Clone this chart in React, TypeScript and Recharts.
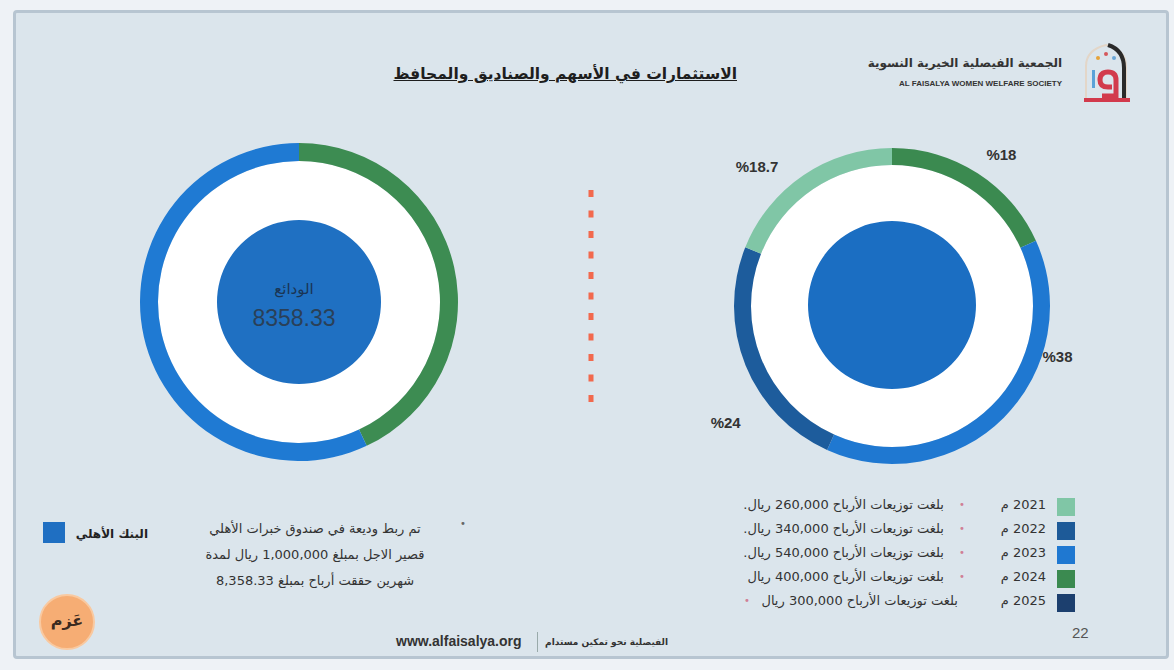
import { PieChart, Pie, Cell } from "recharts";

// right donut: dividend share by year (clockwise from the top)
const yearNames = ["2024", "2023", "2022", "2021"];
const yearShares = [18, 38, 24, 18.7];
const yearColors = ["#3b8a50", "#1f78d1", "#1d5c9c", "#80c6a6"];

// left donut: Al Ahli deposit
const depositNames = ["green", "blue"];
const depositShares = [43, 57];
const depositColors = ["#3d8c52", "#1f7ad3"];

// legend rows (right side)
const legendYears = ["2021", "2022", "2023", "2024", "2025"];
const legendAmounts = ["260,000", "340,000", "540,000", "400,000", "300,000"];
const legendColors = ["#80c6a6", "#1d5a98", "#1f78d1", "#3b8a50", "#1c3f6e"];

const depositValue = "8358.33";

const ringData = yearNames.map((n, i) => ({ name: n, value: yearShares[i] }));
const depositData = depositNames.map((n, i) => ({ name: n, value: depositShares[i] }));
const fillData = [{ name: "fill", value: 1 }];

// label nudges (degrees clockwise, radius) per slice, right donut
const labelPlace = [
  { shift: 3, r: 187 },
  { shift: -28, r: 173 },
  { shift: -13, r: 203 },
  { shift: -10, r: 194 },
];

const RAD = Math.PI / 180;

function pctLabel(props: any) {
  const { cx, cy, midAngle, index, value } = props;
  const p = labelPlace[index];
  const a = midAngle - p.shift;
  const x = cx + p.r * Math.cos(-a * RAD);
  const y = cy + p.r * Math.sin(-a * RAD);
  return (
    <text
      x={x}
      y={y}
      textAnchor="middle"
      dominantBaseline="central"
      fontFamily="Liberation Sans, Arial"
      fontWeight="bold"
      fontSize={15}
      fill="#333"
      style={{ direction: "ltr" }}
    >
      {"%" + value}
    </text>
  );
}

const RX = 887;
const RY = 301;
const LX = 294;
const LY = 297;

export default function App() {
  return (
    <div
      style={{
        position: "absolute",
        left: 0,
        top: 0,
        width: 1174,
        height: 670,
        background: "#eef2f6",
        fontFamily: "DejaVu Sans, sans-serif",
        overflow: "hidden",
      }}
    >
      <div
        style={{
          position: "absolute",
          left: 13,
          top: 10,
          width: 1150,
          height: 643,
          background: "#dbe5ec",
          border: "3px solid #b7c5d1",
          borderRadius: 4,
        }}
      />

      <div style={{ position: "absolute", left: 0, top: 0 }}>
        <PieChart width={1174} height={670}>
          {/* left donut */}
          <Pie data={fillData} dataKey="value" cx={LX} cy={LY} innerRadius={0} outerRadius={141}
            stroke="none" fill="#ffffff" isAnimationActive={false} />
          <Pie data={depositData} dataKey="value" cx={LX} cy={LY} innerRadius={141} outerRadius={159}
            startAngle={90} endAngle={-270} stroke="none" isAnimationActive={false}>
            {depositData.map((d, i) => (
              <Cell key={d.name} fill={depositColors[i]} />
            ))}
          </Pie>
          <Pie data={fillData} dataKey="value" cx={LX} cy={LY} innerRadius={0} outerRadius={82}
            stroke="none" fill="#1f70c2" isAnimationActive={false} />

          {/* right donut */}
          <Pie data={fillData} dataKey="value" cx={RX} cy={RY} innerRadius={0} outerRadius={141}
            stroke="none" fill="#ffffff" isAnimationActive={false} />
          <Pie data={ringData} dataKey="value" cx={RX} cy={RY} innerRadius={141} outerRadius={158}
            startAngle={90} endAngle={-270} stroke="none" isAnimationActive={false}
            label={pctLabel} labelLine={false}>
            {ringData.map((d, i) => (
              <Cell key={d.name} fill={yearColors[i]} />
            ))}
          </Pie>
          <Pie data={fillData} dataKey="value" cx={RX} cy={RY - 1} innerRadius={0} outerRadius={84}
            stroke="none" fill="#1b6ec2" isAnimationActive={false} />
        </PieChart>
      </div>

      {/* centre text of left donut */}
      <div style={{ position: "absolute", left: LX - 80, top: 280, width: 160, textAlign: "center",
        color: "#1a3554", fontSize: 15, direction: "rtl" }}>الودائع</div>
      <div style={{ position: "absolute", left: LX - 80, top: 305, width: 160, textAlign: "center",
        color: "#2a4058", fontSize: 23, fontFamily: "Liberation Sans, Arial" }}>{depositValue}</div>

      {/* title */}
      <div style={{ position: "absolute", left: 337, top: 65, width: 400, textAlign: "right",
        direction: "rtl", fontSize: 15.5, fontWeight: "bold", color: "#1e1e1e", textDecoration: "underline",
        whiteSpace: "nowrap" }}>
        الاستثمارات في الأسهم والصناديق والمحافظ
      </div>

      {/* header logo */}
      <div style={{ position: "absolute", left: 820, top: 56, width: 242, textAlign: "right",
        direction: "rtl", fontSize: 12, fontWeight: "bold", color: "#333", whiteSpace: "nowrap" }}>
        الجمعية الفيصلية الخيرية النسوية
      </div>
      <div style={{ position: "absolute", left: 820, top: 79, width: 242, textAlign: "right",
        fontSize: 8, fontWeight: "bold", color: "#333", fontFamily: "Liberation Sans Narrow, Liberation Sans",
        whiteSpace: "nowrap" }}>
        AL FAISALYA WOMEN WELFARE SOCIETY
      </div>
      <svg style={{ position: "absolute", left: 1078, top: 40 }} width={56} height={70}>
        <path d="M8 58 L8 26 Q8 10 28 5 Q48 10 48 26 L48 58" fill="none" stroke="#e3d6c8" strokeWidth={2} />
        <path d="M30 5 Q46 10 46 28 L46 58" fill="none" stroke="#2a2a2a" strokeWidth={4} />
        <circle cx={20} cy={18} r={2} fill="#e6a33a" />
        <circle cx={28} cy={14} r={2} fill="#d5585c" />
        <circle cx={36} cy={18} r={2} fill="#6aa7d8" />
        <rect x={14} y={30} width={3} height={18} fill="#5aa2d8" />
        <path d="M24 56 L38 56 L38 40 Q38 32 30 32 Q22 32 22 40 Q22 47 30 47 L34 47" fill="none"
          stroke="#d23a4c" strokeWidth={5} />
        <rect x={6} y={58} width={46} height={4} fill="#d23a4c" />
      </svg>

      {/* dotted divider */}
      <svg style={{ position: "absolute", left: 585, top: 188 }} width={12} height={224}>
        <line x1={6} y1={2} x2={6} y2={222} stroke="#f2694d" strokeWidth={5} strokeDasharray="7 13.5" />
      </svg>

      {/* right legend */}
      {legendYears.map((y, i) => {
        const top = 497 + i * 24;
        const last = i === legendYears.length - 1;
        return (
          <div key={y}>
            <div style={{ position: "absolute", left: 1057, top: top + 1, width: 18, height: 18,
              background: legendColors[i] }} />
            <div style={{ position: "absolute", left: 990, top, width: 56, textAlign: "right",
              direction: "rtl", fontSize: 13, color: "#333" }}>{y} م</div>
            <div style={{ position: "absolute", left: last ? 744 : 959, top: top + 2, fontSize: 10,
              color: "#d07f96" }}>•</div>
            <div style={{ position: "absolute", left: 700, top, width: last ? 258 : 244, textAlign: "right",
              direction: "rtl", fontSize: 13, color: "#333", whiteSpace: "nowrap" }}>
              {"بلغت توزيعات الأرباح " + legendAmounts[i] + (last || i === 3 ? " ريال" : " ريال.")}
            </div>
          </div>
        );
      })}

      {/* left note */}
      <div style={{ position: "absolute", left: 460, top: 518, fontSize: 10, color: "#666" }}>•</div>
      <div style={{ position: "absolute", left: 190, top: 516, width: 250, textAlign: "center",
        direction: "rtl", fontSize: 13, color: "#333", lineHeight: "26px" }}>
        تم ربط وديعة في صندوق خبرات الأهلي
        <br />
        قصير الاجل بمبلغ 1,000,000 ريال لمدة
        <br />
        شهرين حققت أرباح بمبلغ 8,358.33
      </div>
      <div style={{ position: "absolute", left: 43, top: 522, width: 22, height: 21, background: "#1f6fc2" }} />
      <div style={{ position: "absolute", left: 74, top: 527, width: 74, textAlign: "right",
        direction: "rtl", fontSize: 12, fontWeight: "bold", color: "#222" }}>البنك الأهلي</div>

      {/* badge */}
      <div style={{ position: "absolute", left: 39, top: 594, width: 56, height: 56, borderRadius: 28,
        background: "#f6ad74", border: "2px solid #f9c9a0", boxSizing: "border-box", textAlign: "center",
        lineHeight: "50px", fontSize: 16, fontWeight: "bold", color: "#3a2a20", direction: "rtl" }}>عَزم</div>

      {/* footer */}
      <div style={{ position: "absolute", left: 396, top: 633, fontSize: 14, fontWeight: "bold",
        color: "#333", fontFamily: "Liberation Sans, Arial" }}>www.alfaisalya.org</div>
      <div style={{ position: "absolute", left: 537, top: 632, width: 1, height: 20, background: "#9aa" }} />
      <div style={{ position: "absolute", left: 543, top: 637, width: 125, textAlign: "right",
        direction: "rtl", fontSize: 9, color: "#333", fontWeight: "bold" }}>الفيصلية نحو تمكين مستدام</div>
      <div style={{ position: "absolute", left: 1072, top: 624, fontSize: 15, color: "#555",
        fontFamily: "Liberation Sans, Arial" }}>22</div>
    </div>
  );
}
